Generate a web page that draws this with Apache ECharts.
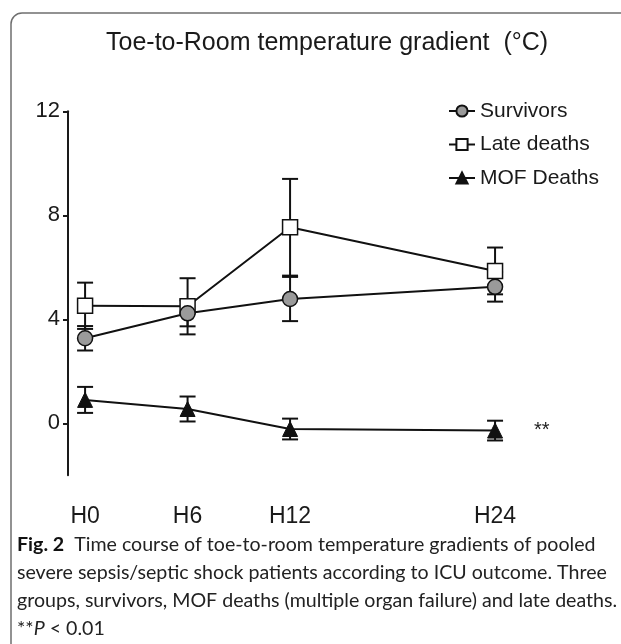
<!DOCTYPE html>
<html>
<head>
<meta charset="utf-8">
<script src="https://cdn.jsdelivr.net/npm/echarts@6/dist/echarts.min.js"></script>
<style>html,body{margin:0;padding:0;background:#fff;}#c{width:621px;height:644px;}</style>
</head>
<body>
<div id="c"></div>
<script>
// ---- data ----
const hours = [0, 6, 12, 24];
const hourLabels = ['H0', 'H6', 'H12', 'H24'];
const yTicks = [0, 4, 8, 12];
const seriesNames = ['Survivors', 'Late deaths', 'MOF Deaths'];
const survivorsMean = [3.27, 4.23, 4.78, 5.25];
const survivorsErr  = [0.47, 0.50, 0.85, 0.57];
const lateMean      = [4.52, 4.50, 7.54, 5.86];
const lateErr       = [0.89, 1.08, 1.86, 0.90];
const mofMean       = [0.90, 0.55, -0.22, -0.28];
const mofErr        = [0.50, 0.48, 0.40, 0.38];
const significance  = '**';
const titleText = 'Toe-to-Room temperature gradient  (°C)';
const captionLines = [
  '{b|Fig. 2}  Time course of toe-to-room temperature gradients of pooled',
  'severe sepsis/septic shock patients according to ICU outcome. Three',
  'groups, survivors, MOF deaths (multiple organ failure) and late deaths.',
  '**{i|P} < 0.01'
];

const FONT = 'Liberation Sans, Arial, sans-serif';
const CAPFONT = 'Lato, Noto Sans, sans-serif';
const CAPSIZE = 19.6;

function pts(mean) { return hours.map((h, i) => [h, mean[i]]); }
function errs(mean, e) { return hours.map((h, i) => [h, mean[i] - e[i], mean[i] + e[i]]); }

function errorSeries(mean, e) {
  return {
    type: 'custom',
    z: 1,
    silent: true,
    data: errs(mean, e),
    encode: { x: 0, y: [1, 2] },
    renderItem: function (params, api) {
      const x = api.value(0), lo = api.value(1), hi = api.value(2);
      const p1 = api.coord([x, hi]);
      const p2 = api.coord([x, lo]);
      const w = 8;
      const st = { stroke: '#111', lineWidth: 2 };
      return {
        type: 'group',
        children: [
          { type: 'line', shape: { x1: p1[0], y1: p1[1], x2: p2[0], y2: p2[1] }, style: st },
          { type: 'line', shape: { x1: p1[0] - w, y1: p1[1], x2: p1[0] + w, y2: p1[1] }, style: st },
          { type: 'line', shape: { x1: p2[0] - w, y1: p2[1], x2: p2[0] + w, y2: p2[1] }, style: st }
        ]
      };
    }
  };
}

const chart = echarts.init(document.getElementById('c'), null, { renderer: 'canvas' });

const mofData = pts(mofMean).map((p, i) => i === hours.length - 1
  ? { value: p, label: { show: true, position: 'right', distance: 31, formatter: significance, fontSize: 20, color: '#222', fontFamily: FONT } }
  : p);

const option = {
  animation: false,
  backgroundColor: '#fff',
  title: {
    text: titleText,
    left: 101, top: 26,
    textStyle: { fontFamily: FONT, fontSize: 25, fontWeight: 'normal', color: '#1a1a1a' }
  },
  legend: {
    orient: 'vertical',
    left: 448, top: 100.5,
    padding: 0,
    itemWidth: 26, itemHeight: 14, itemGap: 12.5,
    data: seriesNames,
    textStyle: { fontFamily: FONT, fontSize: 21, color: '#1a1a1a', lineHeight: 20 }
  },
  grid: { left: 68, right: 74.7, top: 111.3, bottom: 168.7 },
  xAxis: {
    type: 'value', min: -1, max: 27,
    axisLine: { show: false }, axisTick: { show: false }, splitLine: { show: false },
    axisLabel: {
      customValues: hours,
      formatter: function (v) { const i = hours.indexOf(v); return i >= 0 ? hourLabels[i] : ''; },
      margin: 30, fontFamily: FONT, fontSize: 23, color: '#1a1a1a'
    }
  },
  yAxis: {
    type: 'value', min: -2, max: 12,
    splitLine: { show: false },
    axisLine: { show: true, onZero: false, lineStyle: { color: '#1a1a1a', width: 2 } },
    axisTick: { show: true, customValues: yTicks, length: 5, lineStyle: { color: '#1a1a1a', width: 2 } },
    axisLabel: { customValues: yTicks, margin: 8, fontFamily: FONT, fontSize: 22, color: '#1a1a1a' }
  },
  series: [
    errorSeries(survivorsMean, survivorsErr),
    errorSeries(lateMean, lateErr),
    errorSeries(mofMean, mofErr),
    {
      name: seriesNames[1], type: 'line', z: 3, data: pts(lateMean),
      symbol: 'rect', symbolSize: 15,
      lineStyle: { color: '#111', width: 2 },
      itemStyle: { color: '#fff', borderColor: '#111', borderWidth: 1.5 }
    },
    {
      name: seriesNames[0], type: 'line', z: 4, data: pts(survivorsMean),
      symbol: 'circle', symbolSize: 15,
      lineStyle: { color: '#111', width: 2 },
      itemStyle: { color: '#9a9a9a', borderColor: '#111', borderWidth: 1.5 }
    },
    {
      name: seriesNames[2], type: 'line', z: 3, data: mofData,
      symbol: 'triangle', symbolSize: 15,
      lineStyle: { color: '#111', width: 2 },
      itemStyle: { color: '#111', borderColor: '#111', borderWidth: 1 }
    }
  ],
  graphic: [
    { type: 'rect', shape: { x: 11, y: 13, width: 700, height: 700, r: 11 }, style: { fill: 'none', stroke: '#6f6f6f', lineWidth: 1.5 }, z: 0, silent: true }
  ].concat(captionLines.map((t, i) => ({
    type: 'text', left: 17, top: 535 + i * 28, silent: true,
    style: {
      text: t, fontFamily: CAPFONT, fontSize: CAPSIZE, fill: '#222',
      rich: {
        b: { fontFamily: CAPFONT, fontSize: CAPSIZE, fontWeight: 'bold', fill: '#111' },
        i: { fontFamily: CAPFONT, fontSize: CAPSIZE, fontStyle: 'italic', fill: '#222' }
      }
    }
  })))
};
chart.setOption(option);
</script>
</body>
</html>
